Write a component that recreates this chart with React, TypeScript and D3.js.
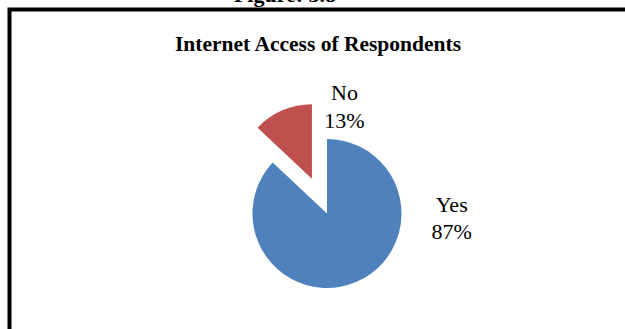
import React from "react";
import * as d3 from "d3";

const categories = ["Yes", "No"];
const values = [87, 13];
const percentLabels = ["87%", "13%"];
const colors = ["#4F81BD", "#C0504D"];
const explode = [0, 38];

export default function App() {
  const W = 625, H = 329;
  const cx = 327, cy = 213.5, r = 74.5;
  const data = categories.map((c, i) => ({ c, v: values[i], i }));
  const pie = d3.pie<any>().value((d: any) => d.v).sort(null).startAngle(0).endAngle(2 * Math.PI);
  const arcs = pie(data);
  const arc = d3.arc<any>().innerRadius(0).outerRadius(r);
  const labelPos = [
    { x: 451.7, y: 211.7 },
    { x: 344.5, y: 100 },
  ];
  return (
    <svg width={W} height={H} style={{ position: "absolute", left: 0, top: 0, background: "#fff" }}>
      <text x={285} y={2} textAnchor="middle" fontFamily="Liberation Serif" fontWeight="bold" fontSize={22} fill="#000">
        Figure: 3.8
      </text>
      <path d={`M9.5,${H} L9.5,9.5 L${W + 5},9.5`} fill="none" stroke="#000" strokeWidth={4} />
      <text x={318} y={50.7} textAnchor="middle" fontFamily="Liberation Serif" fontWeight="bold" fontSize={21.5} fill="#000">
        Internet Access of Respondents
      </text>
      {arcs.map((a: any, i: number) => {
        const mid = (a.startAngle + a.endAngle) / 2;
        const dx = Math.sin(mid) * explode[i];
        const dy = -Math.cos(mid) * explode[i];
        return (
          <path key={i} d={arc(a) as string} transform={`translate(${cx + dx},${cy + dy})`} fill={colors[i]} />
        );
      })}
      {categories.map((c, i) => (
        <text key={c} x={labelPos[i].x} y={labelPos[i].y} textAnchor="middle" fontFamily="Liberation Serif" fontSize={22} fill="#000">
          <tspan x={labelPos[i].x}>{c}</tspan>
          <tspan x={labelPos[i].x} dy={27.5}>{percentLabels[i]}</tspan>
        </text>
      ))}
    </svg>
  );
}
